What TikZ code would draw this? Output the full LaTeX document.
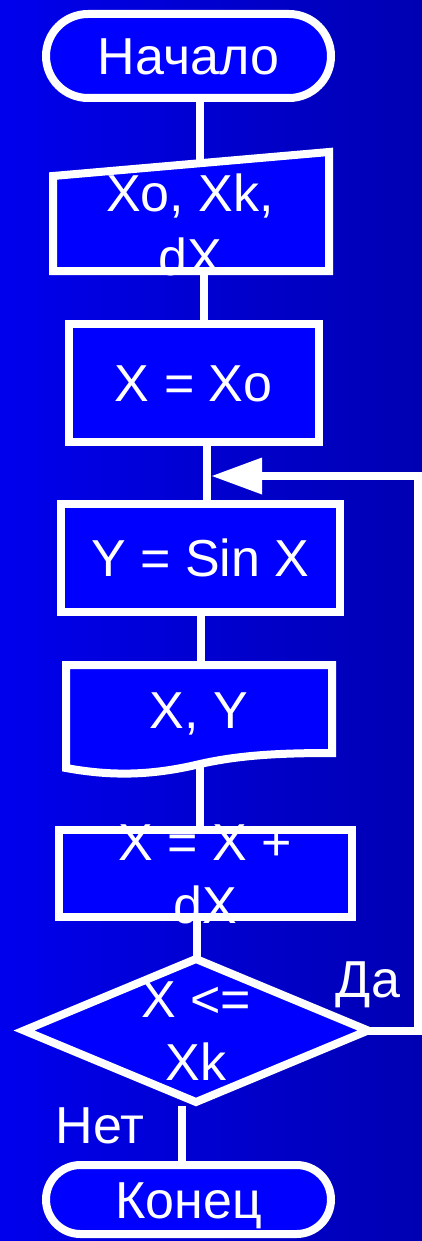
\documentclass[tikz,border=0pt]{standalone}
\usepackage{fontspec}
\setmainfont{Liberation Sans}
\usetikzlibrary{arrows.meta}
\definecolor{bgL}{RGB}{0,0,238}
\definecolor{bgR}{RGB}{0,0,178}
\definecolor{boxB}{RGB}{0,0,255}
\begin{document}
\begin{tikzpicture}[x=1pt,y=-1pt,
  wl/.style={draw=white,line width=8pt},
  shp/.style={wl,fill=boxB},
  txt/.style={text=white,font=\fontsize{52}{63}\selectfont,inner sep=0pt},
  boxnode/.style={shp,txt,rectangle,text height=37pt,text depth=0pt},
  term/.style={boxnode,minimum width=285pt}]
% background
\useasboundingbox (0,0) rectangle (421,1241);
\shade[left color=bgL,right color=bgR] (-3,-3) rectangle (424,1244);

% start terminal
\node[term,minimum height=84pt,rounded corners=42pt] (start) at (188.5,56) {Начало};

% input (manual input)
\coordinate (i1) at (53,176);
\coordinate (i2) at (329,152);
\coordinate (i3) at (329,271);
\coordinate (i4) at (53,271);
\draw[shp] (i1) -- (i2) -- (i3) -- (i4) -- cycle;
\node[txt,align=center,anchor=base] (inptxt) at (190,275) {Xo, Xk,\\dX};

% X = Xo
\node[boxnode,minimum width=249.5pt,minimum height=117.5pt] (x0) at (193.75,382.75) {X = Xo};

% Y = Sin X
\node[boxnode,minimum width=279pt,minimum height=107.5pt] (ysin) at (200.5,557.75) {Y = Sin X};

% output document
\coordinate (o1) at (66,665);
\coordinate (o2) at (332,665);
\coordinate (o3) at (332,753);
\coordinate (o4) at (66,768);
\draw[shp] (o4) -- (o1) -- (o2) -- (o3)
  .. controls (280,753) and (240,755) .. (200,764)
  .. controls (150,776) and (110,776) .. (o4) -- cycle;
\node[txt,anchor=base] (doctxt) at (199,728) {X, Y};

% X = X + dX
\node[shp,rectangle,minimum width=293pt,minimum height=87pt,inner sep=0pt] (xdx) at (205.5,873.5) {};
\node[txt,align=center,anchor=base] (xdxtxt) at (205,923) {X = X +\\dX};

% decision
\coordinate (dT) at (196,959);
\coordinate (dR) at (368,1030.5);
\coordinate (dB) at (196,1102);
\coordinate (dL) at (24,1030.5);
\draw[shp] (dT) -- (dR) -- (dB) -- (dL) -- cycle;
\node[txt,align=center,anchor=base] (dtxt) at (196,1080) {X <=\\Xk};

% end terminal
\node[term,minimum height=69pt,rounded corners=34.5pt] (fin) at (188.5,1199.5) {Конец};

% labels
\node[txt,anchor=base] (yes) at (368,997) {Да};
\node[txt,anchor=base] (no) at (100,1143) {Нет};

% connectors
\coordinate (inTop) at (200,163);
\coordinate (inBot) at (204,271);
\coordinate (k2) at (207,441.5);
\coordinate (docB) at (200,764);
\coordinate (k5) at (197,917);
\coordinate (k6) at (182,1106);
\coordinate (fbA) at (418,1030.5);
\coordinate (fbB) at (418,476);
\coordinate (tip) at (212,476);

\draw[wl] (start.south -| inTop) -- (inTop);
\draw[wl] (inBot) -- (inBot |- x0.north);
\draw[wl] (k2) -- (k2 |- ysin.north);
\draw[wl] (ysin.south) -- (ysin.south |- o1);
\draw[wl] (docB) -- (docB |- xdx.north);
\draw[wl] (k5) -- (k5 |- dT);
\draw[wl] (k6) -- (k6 |- fin.north);
\draw[wl,-{Triangle[length=50pt,width=37pt,line width=0pt]}] (dR) -- (fbA) -- (fbB) -- (tip);
\end{tikzpicture}
\end{document}
